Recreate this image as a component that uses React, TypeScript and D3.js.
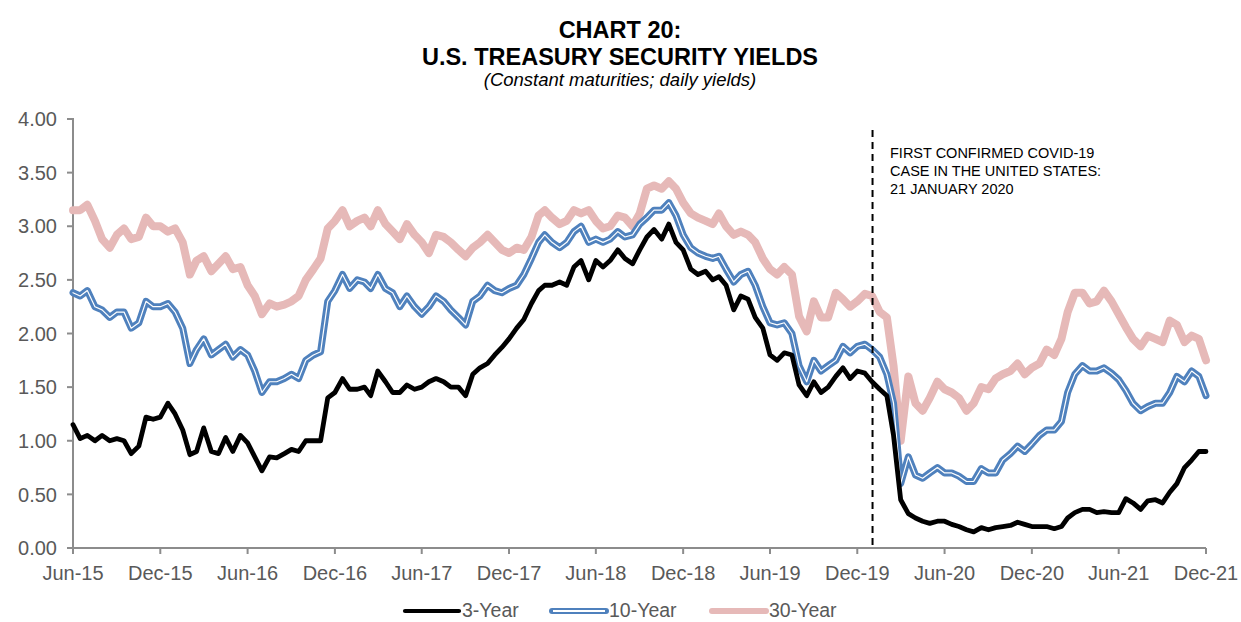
import React from 'react';
import * as d3 from 'd3';

const titleLines = ['CHART 20:', 'U.S. TREASURY SECURITY YIELDS'];
const subtitle = '(Constant maturities; daily yields)';
const xTickLabels = ['Jun-15', 'Dec-15', 'Jun-16', 'Dec-16', 'Jun-17', 'Dec-17', 'Jun-18', 'Dec-18', 'Jun-19', 'Dec-19', 'Jun-20', 'Dec-20', 'Jun-21', 'Dec-21'];
const yTicks = [0, 0.5, 1, 1.5, 2, 2.5, 3, 3.5, 4];
const seriesNames = ['3-Year', '10-Year', '30-Year'];
const eventDate = new Date(2020, 0, 21);
const eventLabel = ['FIRST CONFIRMED COVID-19', 'CASE IN THE UNITED STATES:', '21 JANUARY 2020'];

// semi-monthly readings, starting 20 Jun 2015
const yield3 = [
  1.15, 1.02, 1.05, 1.00, 1.05, 1.00, 1.02, 1.00, 0.88, 0.95, 1.22, 1.20, 1.22, 1.35, 1.25, 1.10, 0.87, 0.90, 1.12, 0.90,
  0.88, 1.03, 0.90, 1.05, 0.98, 0.85, 0.72, 0.85, 0.84, 0.88, 0.92, 0.90, 1.00, 1.00, 1.00, 1.40, 1.45, 1.58, 1.48, 1.48,
  1.50, 1.42, 1.65, 1.55, 1.45, 1.45, 1.52, 1.48, 1.50, 1.55, 1.58, 1.55, 1.50, 1.50, 1.42, 1.62, 1.68, 1.72, 1.80, 1.87,
  1.95, 2.05, 2.13, 2.28, 2.40, 2.45, 2.45, 2.48, 2.45, 2.62, 2.68, 2.50, 2.68, 2.62, 2.68, 2.78, 2.70, 2.65, 2.78,
  2.90, 2.97, 2.88, 3.02, 2.85, 2.78, 2.60, 2.55, 2.58, 2.50, 2.53, 2.45, 2.22, 2.35, 2.32, 2.15, 2.05, 1.80, 1.75, 1.82,
  1.80, 1.52, 1.42, 1.55, 1.45, 1.50, 1.60, 1.68, 1.58, 1.65, 1.63, 1.55, 1.48, 1.42,
  1.05, 0.45, 0.32, 0.28, 0.25, 0.23, 0.25, 0.25, 0.22, 0.20, 0.17, 0.15, 0.19, 0.17, 0.19, 0.20, 0.21, 0.24, 0.22, 0.20,
  0.20, 0.20, 0.18, 0.20, 0.28, 0.33, 0.36, 0.36, 0.33, 0.34, 0.33, 0.33, 0.46, 0.42, 0.36, 0.44, 0.45, 0.42, 0.52, 0.60,
  0.75, 0.82, 0.90, 0.90,
];
const yield10 = [
  2.38, 2.35, 2.40, 2.25, 2.22, 2.15, 2.20, 2.20, 2.05, 2.10, 2.30, 2.25, 2.25, 2.28, 2.20, 2.05, 1.72, 1.85, 1.95, 1.80,
  1.85, 1.90, 1.78, 1.85, 1.80, 1.65, 1.45, 1.55, 1.55, 1.58, 1.62, 1.58, 1.75, 1.80, 1.83, 2.30, 2.40, 2.55, 2.42, 2.50,
  2.48, 2.42, 2.55, 2.42, 2.38, 2.25, 2.35, 2.25, 2.18, 2.25, 2.35, 2.30, 2.22, 2.15, 2.08, 2.30, 2.35, 2.45, 2.40, 2.38,
  2.42, 2.45, 2.55, 2.70, 2.85, 2.92, 2.85, 2.80, 2.85, 2.95, 3.00, 2.85, 2.88, 2.85, 2.88, 2.95, 2.90, 2.92, 3.02,
  3.08, 3.15, 3.15, 3.22, 3.10, 2.92, 2.80, 2.75, 2.72, 2.70, 2.72, 2.60, 2.48, 2.55, 2.58, 2.45, 2.25, 2.10, 2.08, 2.10,
  2.00, 1.70, 1.55, 1.75, 1.65, 1.70, 1.75, 1.88, 1.82, 1.88, 1.90, 1.85, 1.78, 1.62,
  1.35, 0.60, 0.85, 0.68, 0.65, 0.70, 0.75, 0.70, 0.70, 0.67, 0.62, 0.62, 0.74, 0.70, 0.70, 0.82, 0.88, 0.95, 0.90, 0.97,
  1.05, 1.10, 1.10, 1.18, 1.45, 1.62, 1.70, 1.65, 1.65, 1.68, 1.63, 1.57, 1.47, 1.35, 1.28, 1.32, 1.35, 1.35, 1.45, 1.60,
  1.55, 1.65, 1.60, 1.42,
];
const yield30 = [
  3.15, 3.15, 3.20, 3.05, 2.88, 2.80, 2.92, 2.98, 2.88, 2.90, 3.08, 3.00, 3.00, 2.95, 2.98, 2.85, 2.55, 2.68, 2.72, 2.58,
  2.65, 2.72, 2.60, 2.62, 2.45, 2.35, 2.18, 2.28, 2.25, 2.27, 2.30, 2.35, 2.50, 2.60, 2.70, 2.98, 3.05, 3.15, 3.00, 3.05,
  3.08, 3.00, 3.15, 3.02, 2.95, 2.88, 3.02, 2.92, 2.85, 2.75, 2.92, 2.90, 2.85, 2.78, 2.72, 2.80, 2.85, 2.92, 2.85, 2.78,
  2.75, 2.80, 2.78, 2.90, 3.10, 3.15, 3.08, 3.02, 3.05, 3.15, 3.12, 3.15, 3.05, 2.98, 3.00, 3.10, 3.08, 3.00, 3.12,
  3.35, 3.38, 3.35, 3.42, 3.35, 3.22, 3.12, 3.08, 3.05, 3.02, 3.12, 3.00, 2.92, 2.95, 2.92, 2.85, 2.70, 2.60, 2.55, 2.62,
  2.55, 2.16, 2.02, 2.30, 2.15, 2.15, 2.38, 2.32, 2.25, 2.30, 2.37, 2.35, 2.20, 2.15,
  1.70, 1.00, 1.60, 1.35, 1.28, 1.40, 1.55, 1.48, 1.45, 1.40, 1.28, 1.35, 1.50, 1.48, 1.58, 1.62, 1.65, 1.72, 1.62, 1.68,
  1.72, 1.85, 1.80, 1.95, 2.20, 2.38, 2.38, 2.28, 2.30, 2.40, 2.30, 2.18, 2.06, 1.95, 1.88, 1.98, 1.95, 1.92, 2.12, 2.08,
  1.92, 1.98, 1.95, 1.75,
];

const W = 1241;
const H = 622;
const M = { left: 73, right: 1206, top: 119, bottom: 548 };
const FONT = '"Liberation Sans", Arial, sans-serif';
const AXIS_GREY = '#8c8c8c';
const TEXT_GREY = '#595959';
const C3 = '#000000';
const C10 = '#4f81bd';
const C30 = '#e6b9b8';

function sampleDate(i: number): Date {
  return i % 2 === 0 ? new Date(2015, 5 + i / 2, 20) : new Date(2015, 5 + (i + 1) / 2, 5);
}

export default function App() {
  const tickDates = xTickLabels.map((_, k) => new Date(2015, 5 + 6 * k, 20));
  const x = d3.scaleTime().domain([tickDates[0], tickDates[tickDates.length - 1]]).range([M.left, M.right]);
  const y = d3.scaleLinear().domain([0, 4]).range([M.bottom, M.top]);
  const line = d3
    .line<number>()
    .x((_, i) => x(sampleDate(i)))
    .y((d) => y(d))
    .curve(d3.curveLinear);

  const p3 = line(yield3) || '';
  const p10 = line(yield10) || '';
  const p30 = line(yield30) || '';
  const ex = x(eventDate);

  const legendY = 611;
  const legend = [
    { name: seriesNames[0], x0: 405, color: C3 },
    { name: seriesNames[1], x0: 552, color: C10 },
    { name: seriesNames[2], x0: 712, color: C30 },
  ];

  return (
    <svg width={W} height={H} style={{ position: 'absolute', left: 0, top: 0, background: '#fff' }} fontFamily={FONT}>
      <rect x={0} y={0} width={W} height={H} fill="#fff" />
      {/* titles */}
      <text x={620} y={38} textAnchor="middle" fontSize={23.5} fontWeight="bold" fill="#000">{titleLines[0]}</text>
      <text x={620} y={65} textAnchor="middle" fontSize={23.5} fontWeight="bold" fill="#000">{titleLines[1]}</text>
      <text x={620} y={86} textAnchor="middle" fontSize={18.5} fontStyle="italic" fill="#000">{subtitle}</text>

      {/* y axis */}
      <line x1={M.left} x2={M.left} y1={M.top - 1} y2={M.bottom} stroke={AXIS_GREY} strokeWidth={2} />
      {yTicks.map((t) => (
        <g key={t}>
          <line x1={M.left - 6} x2={M.left} y1={y(t)} y2={y(t)} stroke={AXIS_GREY} strokeWidth={2} />
          <text x={57} y={y(t)} dy="0.36em" textAnchor="end" fontSize={20} fill={TEXT_GREY}>{d3.format('.2f')(t)}</text>
        </g>
      ))}

      {/* x axis */}
      <line x1={M.left - 1} x2={M.right} y1={M.bottom} y2={M.bottom} stroke={AXIS_GREY} strokeWidth={2} />
      {tickDates.map((d, k) => (
        <g key={k}>
          <line x1={x(d)} x2={x(d)} y1={M.bottom} y2={M.bottom + 6} stroke={AXIS_GREY} strokeWidth={2} />
          <text x={x(d)} y={580} textAnchor="middle" fontSize={20} fill={TEXT_GREY}>{xTickLabels[k]}</text>
        </g>
      ))}

      {/* series */}
      <path d={p30} fill="none" stroke={C30} strokeWidth={8} strokeLinejoin="round" strokeLinecap="round" />
      <path d={p10} fill="none" stroke={C10} strokeWidth={7} strokeLinejoin="round" strokeLinecap="round" />
      <path d={p10} fill="none" stroke="#fff" strokeWidth={1.2} strokeLinejoin="round" strokeLinecap="round" />
      <path d={p3} fill="none" stroke={C3} strokeWidth={4.8} strokeLinejoin="round" strokeLinecap="round" />

      {/* event marker */}
      <line x1={ex} x2={ex} y1={130} y2={M.bottom} stroke="#000" strokeWidth={2} strokeDasharray="7,5" />
      {eventLabel.map((s, k) => (
        <text key={k} x={890} y={158 + k * 18} fontSize={14.5} fill="#000">{s}</text>
      ))}

      {/* legend */}
      {legend.map((l, k) => (
        <g key={k}>
          <line x1={l.x0} x2={l.x0 + 54} y1={legendY} y2={legendY} stroke={l.color} strokeWidth={k === 0 ? 4.2 : 6} strokeLinecap="round" />
          {k === 1 && <line x1={l.x0 + 1} x2={l.x0 + 53} y1={legendY} y2={legendY} stroke="#fff" strokeWidth={2} />}
          <text x={l.x0 + 57} y={617} fontSize={19.5} fill={TEXT_GREY}>{l.name}</text>
        </g>
      ))}
    </svg>
  );
}
